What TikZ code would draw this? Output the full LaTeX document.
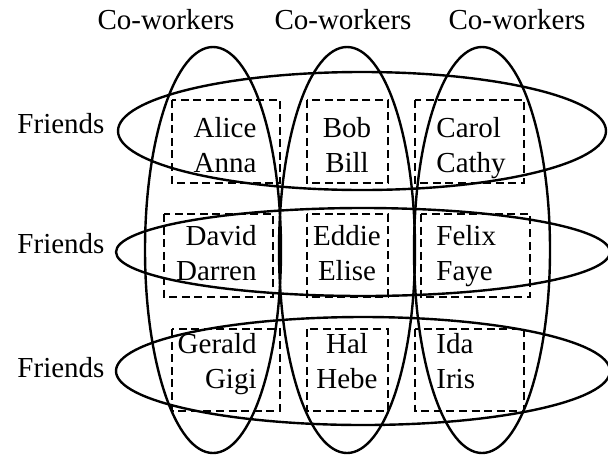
\documentclass[tikz,border=0pt]{standalone}
\usepackage{fontspec}
\setmainfont{Liberation Serif}

\begin{document}
\begin{tikzpicture}[
  x=0.5pt, y=-0.5pt,
  grp/.style={line width=1.2pt},
  box/.style={line width=1.2pt, dash pattern=on 4pt off 2.3pt},
  lbl/.style={font=\fontsize{14.5}{17.5}\selectfont, inner sep=0pt},
  nm/.style={lbl, anchor=north, align=center}
]
\useasboundingbox (0,0) rectangle (608,455);

\draw [grp] (213,250) ellipse [x radius=68, y radius=203];
\draw [grp] (347,250) ellipse [x radius=68, y radius=203];
\draw [grp] (482,250) ellipse [x radius=68, y radius=203];
\draw [grp] (362,131) ellipse [x radius=244, y radius=59];
\draw [grp] (363,252) ellipse [x radius=247, y radius=44];
\draw [grp] (363,371) ellipse [x radius=247, y radius=54];

\draw [box] (172,100) rectangle (280,183);
\draw [box] (307,100) rectangle (388,183);
\draw [box] (415,100) rectangle (524,183);
\draw [box] (164,214) rectangle (273,297);
\draw [box] (307,214) rectangle (388,297);
\draw [box] (421,214) rectangle (530,297);
\draw [box] (172,329) rectangle (280,411);
\draw [box] (307,329) rectangle (388,411);
\draw [box] (415,329) rectangle (524,411);

\node [lbl] (cw1) at (166,20) {Co-workers};
\node [lbl] (cw2) at (343,20) {Co-workers};
\node [lbl] (cw3) at (517,20) {Co-workers};
\node [lbl] (fr1) at (61,124) {Friends};
\node [lbl] (fr2) at (61,244) {Friends};
\node [lbl] (fr3) at (61,368) {Friends};

\node [nm] (alice) at (225,117) {Alice\\Anna};
\node [nm] (bob) at (347,117) {Bob\\Bill};
\node [nm, anchor=north west, align=left] (carol) at (436,117) {Carol\\Cathy};
\node [nm, anchor=north east, align=right] (david) at (257,225) {David\\Darren};
\node [nm] (eddie) at (347,225) {Eddie\\Elise};
\node [nm, anchor=north west, align=left] (felix) at (436,225) {Felix\\Faye};
\node [nm, anchor=north east, align=right] (gerald) at (257,333) {Gerald\\Gigi};
\node [nm] (hal) at (347,333) {Hal\\Hebe};
\node [nm, anchor=north west, align=left] (ida) at (436,333) {Ida\\Iris};
\end{tikzpicture}
\end{document}
